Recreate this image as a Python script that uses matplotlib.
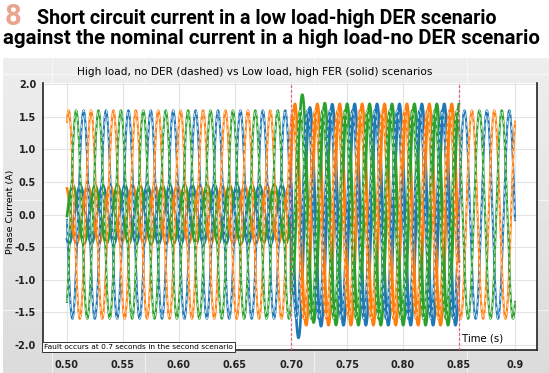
import matplotlib.pyplot as plt
import numpy as np

plt.rcParams['lines.scale_dashes'] = False

# values
phases = ['blue', 'orange', 'green']
colors = ['#1f77b4', '#ff7f0e', '#2ca02c']
phase_shift = [4 * np.pi / 3, 0.0, 2 * np.pi / 3]   # orange leads, then green, then blue
freq = 50.0                                         # Hz

t_start, t_end = 0.50, 0.90
t_fault, t_clear = 0.70, 0.85

# high load, no DER (dashed)
amp_high = 1.6
peak_high = 0.5015          # time of first orange peak

# low load, high DER (solid)
amp_low_pre = 0.45
peak_low_pre = 0.4985
amp_low_fault = 1.70
peak_low_fault = 0.7035
dc_fault = [-0.45, 0.0, 0.50]   # transient offset right after the fault
dc_tau = 0.008

xticks = [0.50, 0.55, 0.60, 0.65, 0.70, 0.75, 0.80, 0.85, 0.90]
xtick_labels = ['0.50', '0.55', '0.60', '0.65', '0.70', '0.75', '0.80', '0.85', '0.9']
yticks = [2.0, 1.5, 1.0, 0.5, 0.0, -0.5, -1.0, -1.5, -2.0]

W, H = 549, 373
fig = plt.figure(figsize=(W / 100, H / 100), dpi=100)
fig.patch.set_facecolor('white')

# grey panel behind the chart
bg = fig.add_axes([3 / W, 0, (W - 3) / W, (H - 58) / H])
grad = np.linspace(0.93, 0.86, 100).reshape(-1, 1)
bg.imshow(grad, aspect='auto', cmap='gray', vmin=0, vmax=1, extent=[0, 1, 0, 1])
for xv in [0.09, 0.26, 0.57, 0.85]:
    bg.axvline(xv, color='white', lw=0.8, alpha=0.6)
for yv in [0.95, 0.55, 0.2]:
    bg.axhline(yv, color='white', lw=0.8, alpha=0.6)
bg.set_xlim(0, 1)
bg.set_ylim(0, 1)
bg.axis('off')

# header
fig.text(5 / W, 1 - 17 / H, '8', fontsize=21, fontweight='bold', color='#E8A48E',
         family='Roboto', va='center', ha='left')
fig.text(37 / W, 1 - 18 / H, 'Short circuit current in a low load-high DER scenario',
         fontsize=14.1, fontweight='bold', family='Roboto', va='center', ha='left')
fig.text(3 / W, 1 - 39 / H, 'against the nominal current in a high load-no DER scenario',
         fontsize=14.7, fontweight='bold', family='Roboto', va='center', ha='left')
fig.text(255 / W, 1 - 72 / H, 'High load, no DER (dashed) vs Low load, high FER (solid) scenarios',
         fontsize=7.6, va='center', ha='center')

ax = fig.add_axes([43 / W, 23 / H, (537 - 43) / W, (350 - 83) / H])
ax.set_facecolor('white')

t = np.linspace(t_start, t_end, 4001)
w = 2 * np.pi * freq

for c, ph, dc in zip(colors, phase_shift, dc_fault):
    pre = t < t_fault
    flt = (t >= t_fault) & (t <= t_clear)
    y = np.full_like(t, np.nan)
    y[pre] = amp_low_pre * np.cos(w * (t[pre] - peak_low_pre) - ph)
    y[flt] = (amp_low_fault * np.cos(w * (t[flt] - peak_low_fault) - ph)
              + dc * np.exp(-(t[flt] - t_fault) / dc_tau))
    ax.plot(t, y, color=c, lw=1.9, zorder=2)

for c, ph in zip(colors, phase_shift):
    y = amp_high * np.cos(w * (t - peak_high) - ph)
    ax.plot(t, y, color=c, lw=1.5, zorder=3)
    ax.plot(t, y, color='white', lw=0.5, ls=(0, (3, 2.5)), zorder=3)

for xv in [t_fault, t_clear]:
    ax.axvline(xv, color='#e0607a', lw=0.9, ls=(0, (2, 1.5)), zorder=4)

ax.set_xlim(0.4786, 0.9196)
ax.set_ylim(-2.08, 2.02)
ax.set_xticks(xticks)
ax.set_xticklabels(xtick_labels)
ax.set_yticks(yticks)
ax.set_yticklabels([f'{v:.1f}' for v in yticks])
ax.tick_params(axis='both', length=0, labelsize=7, colors='#222222')
ax.tick_params(axis='y', pad=5)
ax.tick_params(axis='x', pad=7)
for lab in ax.get_xticklabels() + ax.get_yticklabels():
    lab.set_fontweight('bold')
ax.grid(True, color='#e4e4e4', lw=0.8, zorder=0)
ax.set_axisbelow(True)
ax.spines['top'].set_visible(False)
for s in ['left', 'bottom', 'right']:
    ax.spines[s].set_color('#222222')
    ax.spines[s].set_linewidth(1.2)

fig.text(11 / W, 1 - 212 / H, 'Phase Current (A)', rotation=90, fontsize=6.8,
         va='center', ha='center')
ax.text(0.8714, -1.9, 'Time (s)', fontsize=7.3, ha='center', va='center', zorder=5)
ax.text(0.4795, -2.035, 'Fault occurs at 0.7 seconds in the second scenario', fontsize=5.4,
        ha='left', va='center', zorder=6,
        bbox=dict(boxstyle='square,pad=0.25', fc='white', ec='#333333', lw=0.7))

fig.savefig('out.png', dpi=100)
